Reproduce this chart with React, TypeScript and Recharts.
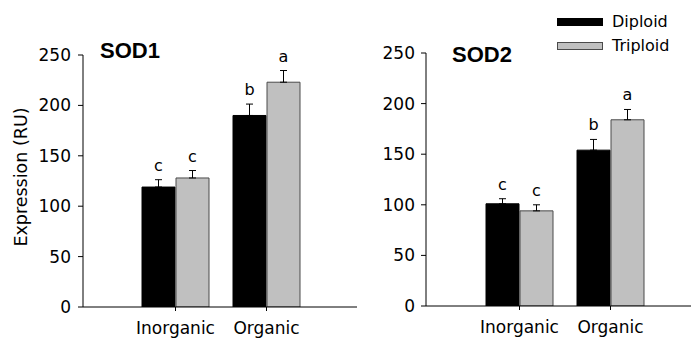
import React from 'react';
import { BarChart, Bar, XAxis, YAxis, ErrorBar, LabelList, Legend } from 'recharts';

const categories = ['Inorganic', 'Organic'];
const yTicks = [0, 50, 100, 150, 200, 250];
const seriesNames = ['Diploid', 'Triploid'];
const panelTitles = ['SOD1', 'SOD2'];
const yAxisTitle = 'Expression (RU)';

const sod1Diploid = [119, 190];
const sod1Triploid = [128, 223];
const sod1DiploidErr = [7.3, 11.3];
const sod1TriploidErr = [7.4, 11.6];
const sod1DiploidLetters = ['c', 'b'];
const sod1TriploidLetters = ['c', 'a'];

const sod2Diploid = [101, 154];
const sod2Triploid = [94, 184];
const sod2DiploidErr = [5, 10.6];
const sod2TriploidErr = [6, 10.2];
const sod2DiploidLetters = ['c', 'b'];
const sod2TriploidLetters = ['c', 'a'];

const FONT = '"DejaVu Sans", Verdana, sans-serif';
const TITLE_FONT = '"Liberation Sans", Arial, sans-serif';
const GRAY = '#c0c0c0';
const GRAY_STROKE = '#4a4a4a';

function buildRows(dip: number[], trip: number[], dipErr: number[], tripErr: number[], dipL: string[], tripL: string[]) {
  return categories.map((name, i) => ({
    name,
    diploid: dip[i],
    triploid: trip[i],
    diploidErr: [0, dipErr[i]],
    triploidErr: [0, tripErr[i]],
    diploidLetter: dipL[i],
    triploidLetter: tripL[i],
  }));
}

const sod1Rows = buildRows(sod1Diploid, sod1Triploid, sod1DiploidErr, sod1TriploidErr, sod1DiploidLetters, sod1TriploidLetters);
const sod2Rows = buildRows(sod2Diploid, sod2Triploid, sod2DiploidErr, sod2TriploidErr, sod2DiploidLetters, sod2TriploidLetters);

function makeLetter(values: number[], errs: number[]) {
  return (props: any) => {
    const { x, y, width, height, value, index } = props;
    const i = typeof index === 'number' ? index : 0;
    const h = Number(height);
    const v = values[i];
    const per = v ? h / v : 0;
    const top = Number(y) - errs[i] * per;
    return (
      <text
        x={Number(x) + Number(width) / 2}
        y={top - 9}
        textAnchor="middle"
        fontFamily={FONT}
        fontSize={16}
        fill="#000"
      >
        {value}
      </text>
    );
  };
}

const LegendContent = (props: any) => {
  const payload = props.payload && props.payload.length ? props.payload : seriesNames.map((n, i) => ({ value: n, color: i === 0 ? '#000' : GRAY }));
  return (
    <div style={{ fontFamily: FONT, fontSize: 16, color: '#000' }}>
      {payload.map((p: any, i: number) => (
        <div key={i} style={{ display: 'flex', alignItems: 'center', height: 24, lineHeight: '24px', whiteSpace: 'nowrap' }}>
          <div
            style={{
              width: 46,
              height: 8,
              boxSizing: 'border-box',
              background: i === 0 ? '#000' : GRAY,
              border: `1px solid ${i === 0 ? '#000' : GRAY_STROKE}`,
            }}
          />
          <span style={{ marginLeft: 9 }}>{p.value}</span>
        </div>
      ))}
    </div>
  );
};

type PanelProps = {
  rows: any[];
  dip: number[];
  trip: number[];
  dipErr: number[];
  tripErr: number[];
  top: number;
  bottom: number;
  yAxisWidth: number;
  right: number;
  padL: number;
  padR: number;
  yTickMargin: number;
  legend?: boolean;
};

function Panel(p: PanelProps) {
  const H = 343;
  return (
    <BarChart
      width={360}
      height={H}
      data={p.rows}
      margin={{ top: p.top, right: p.right, bottom: 0, left: 0 }}
      barSize={33}
      barGap={1}
    >
      <XAxis
        dataKey="name"
        height={H - p.bottom}
        padding={{ left: p.padL, right: p.padR }}
        axisLine={{ stroke: '#000', strokeWidth: 1 }}
        tickLine={{ stroke: '#000' }}
        tickSize={4}
        tickMargin={11}
        tick={{ fill: '#000', fontFamily: FONT, fontSize: 17 }}
        interval={0}
      />
      <YAxis
        type="number"
        domain={[0, 250]}
        ticks={yTicks}
        width={p.yAxisWidth}
        axisLine={{ stroke: '#000', strokeWidth: 1 }}
        tickLine={{ stroke: '#000' }}
        tickSize={5}
        tickMargin={p.yTickMargin}
        tick={{ fill: '#000', fontFamily: FONT, fontSize: 17 }}
        allowDataOverflow
      />
      {p.legend && (
        <Legend
          layout="vertical"
          align="center"
          verticalAlign="middle"
          content={<LegendContent />}
          wrapperStyle={{ position: 'absolute', left: 212, top: 10, width: 140, height: 48 }}
        />
      )}
      <Bar dataKey="diploid" name={seriesNames[0]} fill="#000" stroke="#000" strokeWidth={1} isAnimationActive={false}>
        <ErrorBar dataKey="diploidErr" width={3.5} stroke="#000" strokeWidth={1} isAnimationActive={false} />
        <LabelList dataKey="diploidLetter" content={makeLetter(p.dip, p.dipErr)} />
      </Bar>
      <Bar dataKey="triploid" name={seriesNames[1]} fill={GRAY} stroke={GRAY_STROKE} strokeWidth={1} isAnimationActive={false}>
        <ErrorBar dataKey="triploidErr" width={3.5} stroke="#000" strokeWidth={1} isAnimationActive={false} />
        <LabelList dataKey="triploidLetter" content={makeLetter(p.trip, p.tripErr)} />
      </Bar>
    </BarChart>
  );
}

export default function App() {
  return (
    <div style={{ position: 'absolute', left: 0, top: 0, width: 691, height: 343, overflow: 'hidden', background: '#fff' }}>
      <div style={{ position: 'absolute', left: 0, top: 0 }}>
        <Panel
          rows={sod1Rows}
          dip={sod1Diploid}
          trip={sod1Triploid}
          dipErr={sod1DiploidErr}
          tripErr={sod1TriploidErr}
          top={55}
          bottom={307}
          yAxisWidth={83}
          right={3}
          padL={47}
          padR={45}
          yTickMargin={7}
        />
      </div>
      <div style={{ position: 'absolute', left: 345, top: 0 }}>
        <Panel
          rows={sod2Rows}
          dip={sod2Diploid}
          trip={sod2Triploid}
          dipErr={sod2DiploidErr}
          tripErr={sod2TriploidErr}
          top={53}
          bottom={306}
          yAxisWidth={81}
          right={5}
          padL={48}
          padR={44}
          yTickMargin={6}
          legend
        />
      </div>
      <svg width={691} height={343} style={{ position: 'absolute', left: 0, top: 0, pointerEvents: 'none' }}>
        <text x={100} y={58} fontFamily={TITLE_FONT} fontWeight="bold" fontSize={22} fill="#000">{panelTitles[0]}</text>
        <text x={452} y={61.5} fontFamily={TITLE_FONT} fontWeight="bold" fontSize={22} fill="#000">{panelTitles[1]}</text>
        <text
          x={21}
          y={177}
          transform="rotate(-90, 21, 177)"
          textAnchor="middle"
          dominantBaseline="central"
          fontFamily={FONT}
          fontSize={17.5}
          fill="#000"
        >
          {yAxisTitle}
        </text>
      </svg>
    </div>
  );
}
